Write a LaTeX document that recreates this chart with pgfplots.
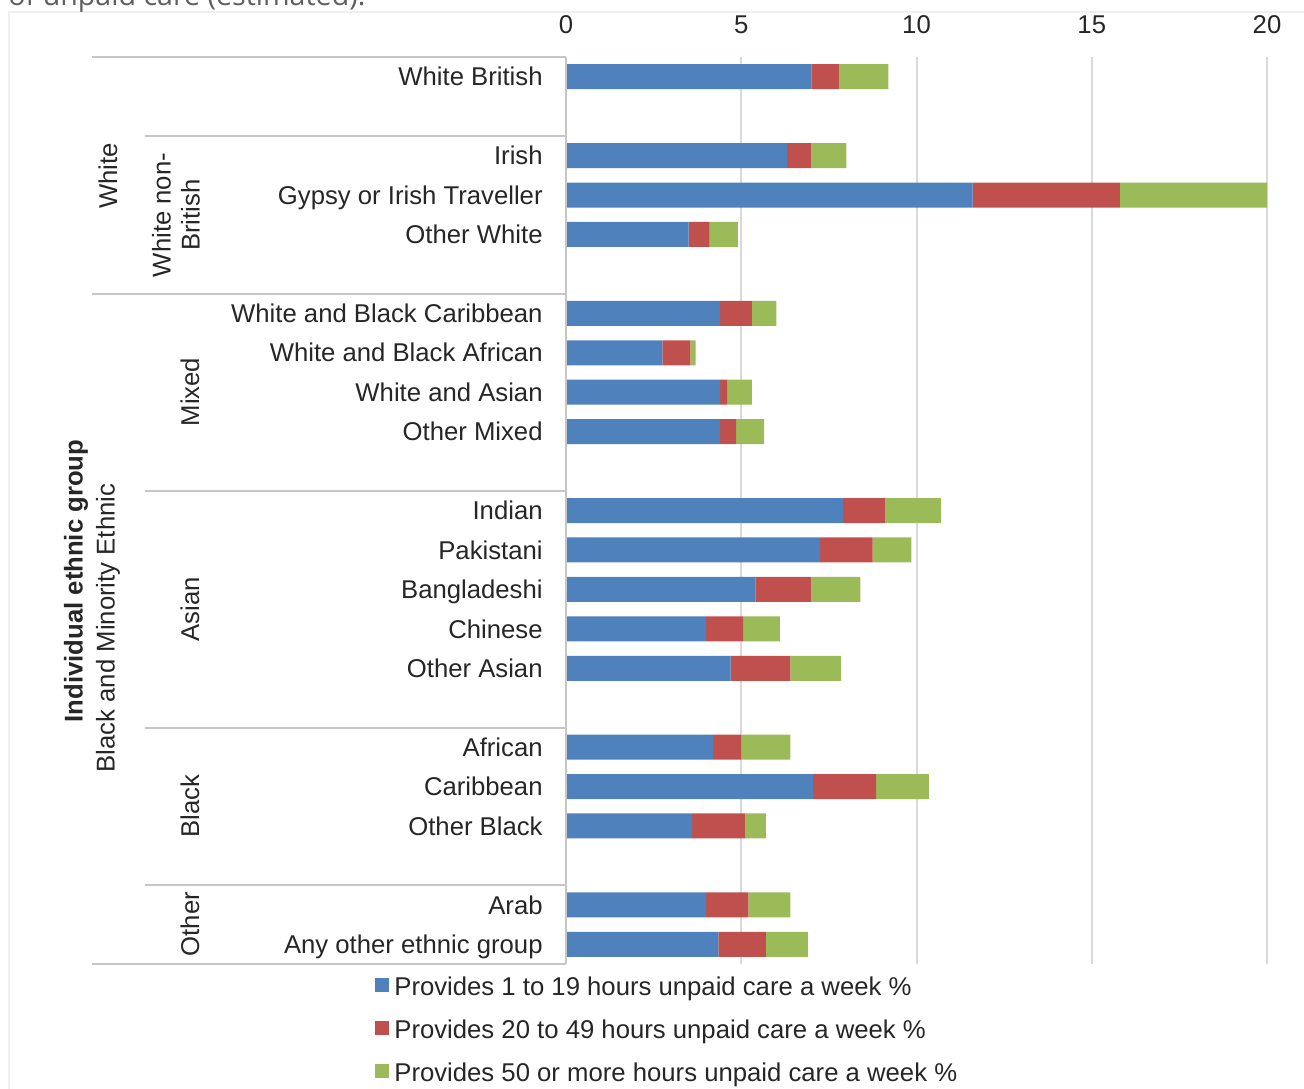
\documentclass[border=0pt]{standalone}
\usepackage{pgfplots}
\pgfplotsset{compat=1.18}
\usepackage{pgfplotstable}
\usepackage{fontspec}
\setmainfont{Liberation Sans}
\newfontfamily\notefont{Open Sans}

\definecolor{cblue}{HTML}{4F81BD}
\definecolor{cred}{HTML}{C0504D}
\definecolor{cgreen}{HTML}{9BBB59}
\definecolor{txt}{HTML}{262626}
\definecolor{rulec}{HTML}{C6C6C6}
\definecolor{gridc}{HTML}{D9D9D9}
\definecolor{framec}{HTML}{EFEFEF}
\definecolor{notec}{HTML}{5F5F5F}

\newcommand{\lblfont}{\fontsize{12.85}{14.5}\selectfont}

% Share of people providing unpaid care (%), by hours per week.
% pos = row position counted from the bottom (gaps separate the groups)
\pgfplotstableread{
pos one   twenty fifty
22  7.0   0.8    1.4
20  6.3   0.7    1.0
19  11.6  4.2    4.2
18  3.5   0.6    0.8
16  4.4   0.9    0.7
15  2.75  0.8    0.15
14  4.4   0.2    0.7
13  4.4   0.45   0.8
11  7.9   1.2    1.6
10  7.25  1.5    1.1
9   5.4   1.6    1.4
8   4.0   1.05   1.05
7   4.7   1.7    1.45
5   4.2   0.8    1.4
4   7.05  1.8    1.5
3   3.6   1.5    0.6
1   4.0   1.2    1.2
0   4.35  1.35   1.2
}\caredata

\begin{document}
\begin{tikzpicture}
% page frame in pixel-like units (1 unit = 0.5pt, y downwards)
\begin{scope}[x=0.5pt,y=-0.5pt]
  \useasboundingbox (0,0) rectangle (1304,1088);
  \draw[framec, line width=0.6pt] (9,1100) -- (9,12) -- (1320,12);
  \node[anchor=base west, inner sep=0pt, text=notec,
        font=\notefont\fontsize{14.3}{16}\selectfont] at (8,5) {of unpaid care (estimated).};
\end{scope}

\begin{axis}[
  at={(283pt,-28.5pt)}, anchor=north west,
  scale only axis, width=350.5pt, height=453.5pt,
  xbar stacked, bar width=12.5pt,
  xmin=0, xmax=20, ymin=-0.5, ymax=22.5,
  axis line style={draw=none},
  major tick length=0pt,
  xtick={0,5,10,15,20},
  xticklabel pos=upper,
  xmajorgrids, grid style={gridc, line width=1pt},
  ytick={0,1,3,4,5,7,8,9,10,11,13,14,15,16,18,19,20,22},
  yticklabels={Any other ethnic group, Arab, Other Black, Caribbean, African,
    Other Asian, Chinese, Bangladeshi, Pakistani, Indian,
    Other Mixed, White and Asian, White and Black African, White and Black Caribbean,
    Other White, Gypsy or Irish Traveller, Irish, White British},
  /pgf/number format/assume math mode=true,
  tick label style={font=\lblfont, text=txt},
  yticklabel style={anchor=east, inner sep=0pt, xshift=-11.5pt,
                    text height=9.2pt, text depth=0pt},
  xticklabel style={anchor=south, inner sep=0pt, yshift=11.5pt},
  legend style={at={(axis description cs:-0.2725,-0.0132)}, anchor=north west,
    draw=none, fill=none, inner sep=0pt, column sep=2.5pt, row sep=9.25pt,
    font=\lblfont, text=txt,
    nodes={inner sep=0pt, text height=9.5pt, text depth=2.7pt}},
  legend cell align=left,
  legend image code/.code={\fill[#1] (0pt,-1.9pt) rectangle (7pt,5.1pt);},
]
\addplot[fill=cblue, draw=none] table[x=one, y=pos] {\caredata};
\addplot[fill=cred, draw=none] table[x=twenty, y=pos] {\caredata};
\addplot[fill=cgreen, draw=none] table[x=fifty, y=pos] {\caredata};
\legend{Provides 1 to 19 hours unpaid care a week \%,
        Provides 20 to 49 hours unpaid care a week \%,
        Provides 50 or more hours unpaid care a week \%}
\end{axis}

% grouping frame and group names on the left
\begin{scope}[x=0.5pt,y=-0.5pt, font=\lblfont, text=txt]
  \draw[rulec, line width=1pt] (566,57) -- (566,964);
  \draw[rulec, line width=1pt] (92,57) -- (566,57);
  \draw[rulec, line width=1pt] (145,136) -- (566,136);
  \draw[rulec, line width=1pt] (92,294) -- (566,294);
  \draw[rulec, line width=1pt] (145,491) -- (566,491);
  \draw[rulec, line width=1pt] (145,728) -- (566,728);
  \draw[rulec, line width=1pt] (145,885) -- (566,885);
  \draw[rulec, line width=1pt] (92,964) -- (566,964);

  \node[rotate=90, inner sep=0pt] at (108,176) {White};
  \node[rotate=90, inner sep=0pt, align=center] at (176,215) {White non-\\British};
  \node[rotate=90, inner sep=0pt] at (190,392) {Mixed};
  \node[rotate=90, inner sep=0pt] at (190,609) {Asian};
  \node[rotate=90, inner sep=0pt] at (190,806) {Black};
  \node[rotate=90, inner sep=0pt] at (190,924) {Other};
  \node[rotate=90, inner sep=0pt] at (108,628) {Black and Minority Ethnic};
  \node[rotate=90, inner sep=0pt, font=\lblfont\bfseries] at (76,581) {Individual ethnic group};
\end{scope}
\end{tikzpicture}
\end{document}
